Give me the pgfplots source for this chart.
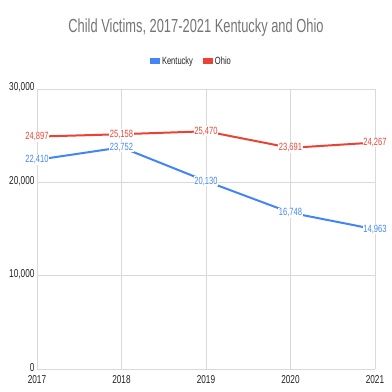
\documentclass[border=0pt]{standalone}
\usepackage{pgfplots}
\pgfplotsset{compat=1.18}
\usepackage{fontspec}
\setmainfont[FakeStretch=0.72]{Liberation Sans}
\newfontfamily\titlefont[FakeStretch=0.68]{Liberation Sans}
\definecolor{ky}{HTML}{4285F4}
\definecolor{oh}{HTML}{EA4335}
\definecolor{gridc}{HTML}{D9D9D9}
\definecolor{titlec}{HTML}{757575}
\definecolor{labc}{HTML}{222222}
\begin{document}
\begin{tikzpicture}
\useasboundingbox (-37bp,-23bp) rectangle (355bp,369bp);
\begin{axis}[at={(0,0)}, anchor=south west, scale only axis,
  width=338bp, height=280bp,
  xmin=2017, xmax=2021, ymin=0, ymax=30000,
  xtick={2017,2018,2019,2020,2021},
  ytick={0,10000,20000,30000},
  scaled y ticks=false,
  /pgf/number format/assume math mode=true,
  xticklabel style={/pgf/number format/1000 sep={}, yshift=-3bp},
  yticklabel style={/pgf/number format/1000 sep={,}, xshift=1bp, yshift=1.5bp},
  tick label style={font=\fontsize{11.5}{13}\selectfont, text=labc},
  major tick length=0pt,
  grid=major, major grid style={gridc, line width=0.8bp},
  axis line style={draw=none},
  extra y ticks={0}, extra y tick labels={},
  extra tick style={grid style={labc, line width=1.2bp}},
  clip=false,
  nodes near coords,
  every node near coord/.append style={anchor=center, fill=white, inner sep=0.6bp,
    font=\fontsize{10.5}{12}\selectfont},
  legend columns=2,
  legend style={draw=none, at={(0.457,1.1)}, anchor=center,
    font=\fontsize{10.5}{12}\selectfont, text=labc,
    /tikz/every even column/.append style={column sep=8bp}},
  legend image code/.code={\fill[#1] (0bp,-2bp) rectangle (8bp,2bp);},
]
\addplot[ky, line width=2bp, nodes near coords style={text=ky}] coordinates {
  (2017,22410) (2018,23752) (2019,20130) (2020,16748) (2021,14963)};
\addlegendentry{Kentucky}
\addplot[oh, line width=2bp, nodes near coords style={text=oh}] coordinates {
  (2017,24897) (2018,25158) (2019,25470) (2020,23691) (2021,24267)};
\addlegendentry{Ohio}
\end{axis}
\node[font=\titlefont\fontsize{19}{22}\selectfont, text=titlec] at (159bp,341bp) {Child Victims, 2017-2021 Kentucky and Ohio};
\end{tikzpicture}
\end{document}
